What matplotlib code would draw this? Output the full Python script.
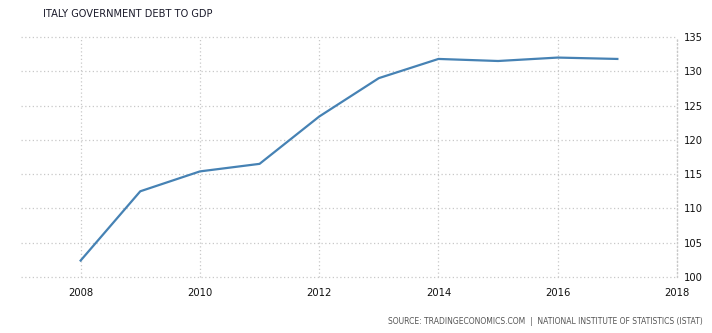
import matplotlib
matplotlib.use("Agg")
import matplotlib.pyplot as plt

years = [2008, 2009, 2010, 2011, 2012, 2013, 2014, 2015, 2016, 2017]
debt_to_gdp = [102.4, 112.5, 115.4, 116.5, 123.4, 129.0, 131.8, 131.5, 132.0, 131.8]
x_ticks = [2008, 2010, 2012, 2014, 2016, 2018]
y_ticks = [100, 105, 110, 115, 120, 125, 130, 135]

W, H = 712, 333
fig = plt.figure(figsize=(W / 100, H / 100), dpi=100)
ax = fig.add_axes([21 / W, (H - 277) / H, (677 - 21) / W, (277 - 37) / H])

ax.plot(years, debt_to_gdp, color="#4682b4", linewidth=1.6, solid_joinstyle="round", zorder=3)

ax.set_xlim(2007, 2018)
ax.set_ylim(100, 135)
ax.set_xticks(x_ticks)
ax.set_yticks(y_ticks)

grid_style = dict(color="#c8c8c8", linestyle=(0, (1, 2)), linewidth=0.9)
ax.grid(True, **grid_style)
for gl in ax.get_ygridlines() + ax.get_xgridlines():
    gl.set_clip_on(False)
for s in ["left", "top", "bottom"]:
    ax.spines[s].set_visible(False)
ax.spines["right"].set(color="#c8c8c8", linestyle=(0, (1, 2)), linewidth=0.9)

ax.yaxis.tick_right()
ax.tick_params(axis="both", length=0, labelsize=7.2, labelcolor="#111111")
ax.tick_params(axis="y", pad=5)
ax.tick_params(axis="x", pad=8)

fig.text(43 / W, 1 - 14 / H, "ITALY GOVERNMENT DEBT TO GDP", fontsize=7.1,
         color="#1a1a2a", ha="left", va="center")
fig.text(703 / W, 1 - 321 / H,
         "SOURCE: TRADINGECONOMICS.COM  |  NATIONAL INSTITUTE OF STATISTICS (ISTAT)",
         fontsize=5.5, color="#555555", ha="right", va="center",
         family=["Liberation Sans Narrow", "DejaVu Sans"])

fig.savefig("out.png", dpi=100, facecolor="white")
